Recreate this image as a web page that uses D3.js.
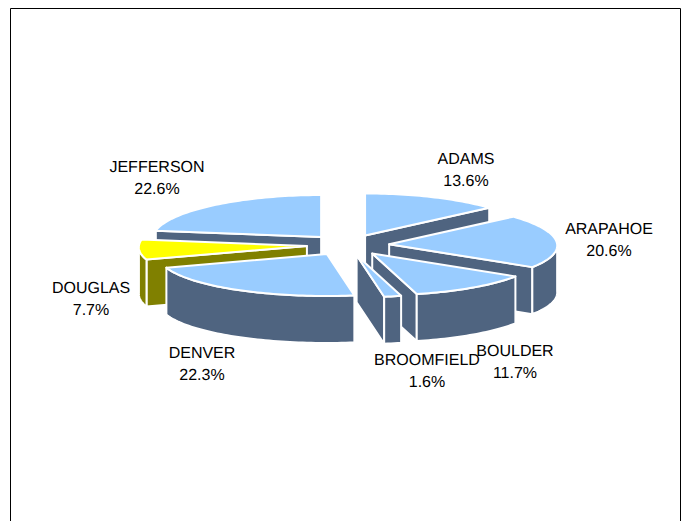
<!DOCTYPE html>
<html>
<head>
<meta charset="utf-8">
<script src="https://cdn.jsdelivr.net/npm/d3@7"></script>
<style>
  html, body { margin: 0; padding: 0; background: #fff; }
  svg { display: block; }
  text { font-family: "Liberation Sans", Arial, sans-serif; font-size: 16px; fill: #000; text-anchor: middle; text-rendering: geometricPrecision; }
</style>
</head>
<body>
<svg width="684" height="521"></svg>
<script>
var categories = ["ADAMS", "ARAPAHOE", "BOULDER", "BROOMFIELD", "DENVER", "DOUGLAS", "JEFFERSON"];
var shares = [13.6, 20.6, 11.7, 1.6, 22.3, 7.7, 22.6];

// label anchors, same order as categories
var labelX = [466, 609, 515, 427, 202, 91, 157];
var labelY = [164, 234, 356, 365, 358, 293, 172];

var topColors = ["#99ccff", "#99ccff", "#99ccff", "#99ccff", "#99ccff", "#ffff00", "#99ccff"];
var sideColors = ["#4f6480", "#4f6480", "#4f6480", "#4f6480", "#4f6480", "#808000", "#4f6480"];

var svg = d3.select("svg");
var cx = 348, cy = 245, ry = 42, depth = 47, explode = 0.25;

// frame runs off the bottom of the page
svg.append("path")
    .attr("d", "M10.5,521V8.5H680.5V521")
    .attr("fill", "none")
    .attr("stroke", "#000");

var arcs = d3.pie().sort(null).startAngle(0).endAngle(2 * Math.PI)(shares);

// the far side of the pie is drawn a little narrower
function rx(a) { return 168 - 5 * Math.cos(a); }

function offset(d) {
  var mid = (d.startAngle + d.endAngle) / 2;
  return [cx + explode * 165 * Math.sin(mid), cy - explode * ry * Math.cos(mid)];
}

function rim(o, a, h) {
  return [o[0] + rx(a) * Math.sin(a), o[1] - ry * Math.cos(a) + h];
}

function arcPoints(o, a0, a1, h) {
  var n = Math.max(2, Math.ceil((a1 - a0) * 40));
  return d3.range(n + 1).map(function(i) { return rim(o, a0 + (a1 - a0) * i / n, h); });
}

var line = d3.line();

function face(pts, color) {
  svg.append("path")
      .attr("d", line(pts) + "Z")
      .attr("fill", color)
      .attr("stroke", "#fff")
      .attr("stroke-width", 2)
      .attr("stroke-linejoin", "round");
}

function wall(o, a, color) {
  var r = rim(o, a, 0), b = rim(o, a, depth);
  face([o, r, b, [o[0], o[1] + depth]], color);
}

// back to front
var order = d3.range(arcs.length).sort(function(a, b) {
  var ma = (arcs[a].startAngle + arcs[a].endAngle) / 2;
  var mb = (arcs[b].startAngle + arcs[b].endAngle) / 2;
  return -Math.cos(ma) - (-Math.cos(mb));
});

order.forEach(function(i) {
  var d = arcs[i], o = offset(d);
  var a0 = d.startAngle, a1 = d.endAngle;

  if (Math.sin(a0) < -0.001) wall(o, a0, sideColors[i]);
  if (Math.sin(a1) > 0.001) wall(o, a1, sideColors[i]);

  // outer wall, front half only
  var f0 = Math.max(a0, Math.PI / 2), f1 = Math.min(a1, 3 * Math.PI / 2);
  if (f1 > f0) {
    var pts = arcPoints(o, f0, f1, 0).concat(arcPoints(o, f0, f1, depth).reverse());
    face(pts, sideColors[i]);
  }

  face([o].concat(arcPoints(o, a0, a1, 0)), topColors[i]);
});

categories.forEach(function(c, i) {
  svg.append("text").attr("x", labelX[i]).attr("y", labelY[i]).text(c);
  svg.append("text").attr("x", labelX[i]).attr("y", labelY[i] + 22).text(shares[i].toFixed(1) + "%");
});
</script>
</body>
</html>
